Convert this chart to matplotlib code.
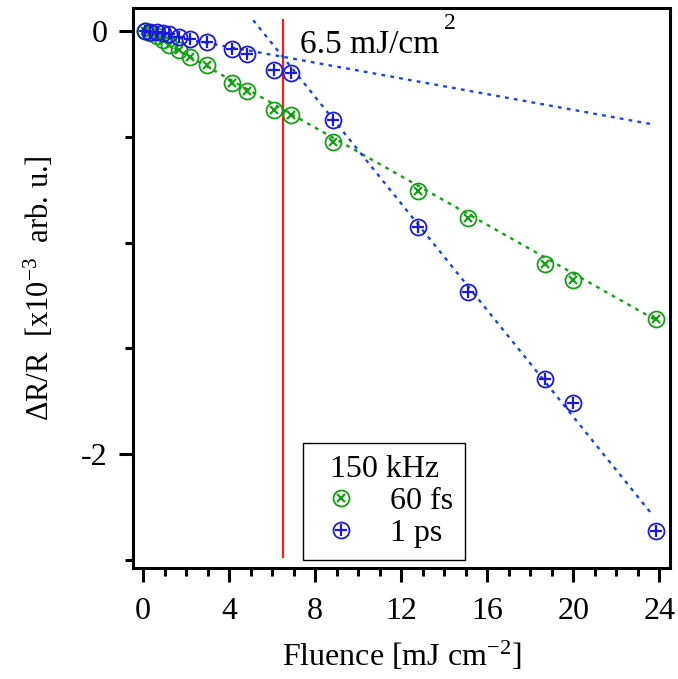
import numpy as np
import matplotlib
matplotlib.use("Agg")
import matplotlib.pyplot as plt
from matplotlib.legend_handler import HandlerTuple
from matplotlib.ticker import MultipleLocator, FixedLocator

plt.rcParams['font.family'] = ['Liberation Serif', 'DejaVu Serif']
plt.rcParams['mathtext.fontset'] = 'custom'
plt.rcParams['mathtext.rm'] = 'Liberation Serif'
plt.rcParams['mathtext.default'] = 'regular'
plt.rcParams['axes.unicode_minus'] = False

# ---- data ----
fluence = [0.1, 0.33, 0.65, 0.93, 1.2, 1.65, 2.2, 2.95, 4.15, 4.85,
           6.1, 6.9, 8.85, 12.8, 15.1, 18.7, 20.0, 23.85]
dr_60fs = [0.0, -0.009, -0.024, -0.043, -0.066, -0.090, -0.123, -0.161, -0.246, -0.284,
           -0.374, -0.398, -0.526, -0.758, -0.882, -1.10, -1.175, -1.36]
dr_1ps = [0.0, -0.005, -0.005, -0.009, -0.014, -0.028, -0.038, -0.052, -0.085, -0.109,
          -0.185, -0.199, -0.422, -0.924, -1.232, -1.645, -1.758, -2.365]

# linear fits (slope, intercept, x-range)
fit_60fs = (-0.0575, 0.004, 0.0, 23.85)
fit_1ps_low = (-0.0186, 0.0, 0.0, 23.72)
fit_1ps_high = (-0.1261, 0.698, 5.12, 23.72)
threshold = 6.5
threshold_ylim = (0.052, -2.49)

green = '#12a012'
blue = '#1a1ad8'
blue_line = '#1a44e0'
red = '#ff1a1a'

fig = plt.figure(figsize=(6.78, 6.79), dpi=100)
ax = fig.add_axes([133/678, 1-568/679, (670-133)/678, (568-8)/679])

dot = (0, (1.6, 2.2))
for (m, b, x0, x1), col in [(fit_60fs, green), (fit_1ps_low, blue_line), (fit_1ps_high, blue_line)]:
    xs = np.array([x0, x1])
    ax.plot(xs, m*xs + b, linestyle=dot, color=col, lw=1.7, zorder=2)

ax.plot([threshold, threshold], threshold_ylim, color=red, lw=1.6, zorder=1)

ms_c, mew = 11.5, 1.3
g1, = ax.plot(fluence, dr_60fs, 'o', ms=ms_c, mfc='none', mec=green, mew=mew, zorder=3)
g2, = ax.plot(fluence, dr_60fs, 'x', ms=6, mec=green, mew=mew+0.3, zorder=3)
b1, = ax.plot(fluence, dr_1ps, 'o', ms=ms_c, mfc='none', mec=blue, mew=mew, zorder=4)
b2, = ax.plot(fluence, dr_1ps, '+', ms=8, mec=blue, mew=mew+0.3, zorder=4)

ax.set_xlim(-0.47, 24.5)
ax.set_ylim(-2.54, 0.11)

ax.xaxis.set_major_locator(MultipleLocator(4))
ax.xaxis.set_minor_locator(MultipleLocator(1))
ax.yaxis.set_major_locator(FixedLocator([0, -2]))
ax.yaxis.set_minor_locator(FixedLocator([-0.5, -1, -1.5, -2.5]))
ax.set_yticklabels(['0', '-2'])

for s in ax.spines.values():
    s.set_linewidth(2.2)
ax.tick_params(which='major', direction='out', length=10, width=2.2, labelsize=23, pad=8)
ax.tick_params(which='minor', direction='out', length=6, width=2.2)
ax.tick_params(axis='x', which='major', pad=11)

ax.set_xlabel('Fluence [mJ cm$^{-2}$]', fontsize=23, labelpad=10)
ax.set_ylabel('ΔR/R  [x10$^{-3}$  arb. u.]', fontsize=22, labelpad=18)

ax.text(7.3, -0.104, '6.5 mJ/cm', fontsize=24, va='baseline', ha='left')
ax.text(14.0, 0.01, '2', fontsize=17, va='baseline', ha='left')

leg = ax.legend([(g1, g2), (b1, b2)], ['60 fs', '1 ps'],
                handler_map={tuple: HandlerTuple(ndivide=1)},
                title='150 kHz', title_fontsize=23, fontsize=23,
                loc='lower left', bbox_to_anchor=((303-133)/537, (568-560)/560),
                borderaxespad=0, frameon=True, fancybox=False, edgecolor='black',
                framealpha=1, handlelength=1.6, handletextpad=0.75,
                labelspacing=0.08, borderpad=0.38, markerscale=1.0)
leg.get_frame().set_linewidth(1.0)

fig.savefig('out.png', dpi=100)
